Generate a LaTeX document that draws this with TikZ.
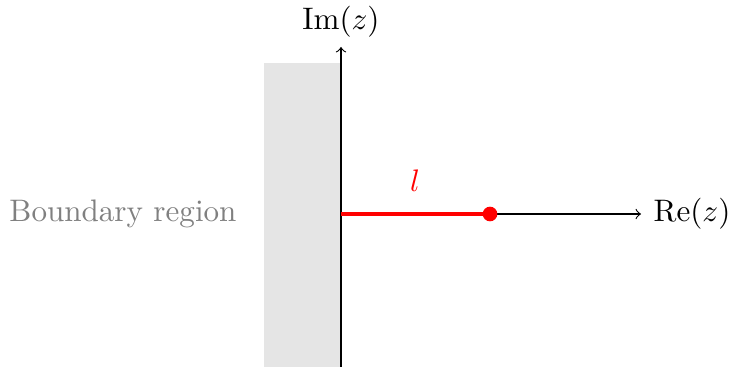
\documentclass[tikz,border=0pt]{standalone}
\begin{document}
\begin{tikzpicture}[x=0.3215pt,y=-0.3215pt,
  axis/.style={->,line width=0.35pt},
  seg/.style={red,line width=1.2pt},
  lbl/.style={inner sep=0pt}]
\useasboundingbox (0,0) rectangle (729,367);
\fill[gray!20] (264,63) rectangle (341,367);
\coordinate (O) at (341,214);
\coordinate (bot) at (341,367);
\coordinate (top) at (341,47);
\coordinate (right) at (641,214);
\draw[axis] (bot) -- (top);
\draw[axis] (O) -- (right);
\node[circle,fill=red,inner sep=0pt,minimum size=4.7pt] (dot) at (490,214) {};
\draw[seg] (O) -- (dot.center);
\node[lbl,anchor=south] (im) at (341,38) {$\mathrm{Im}(z)$};
\node[lbl,anchor=west] (re) at (653,214) {$\mathrm{Re}(z)$};
\node[lbl,red] (l) at (415,181) {$l$};
\node[lbl,gray] (bd) at (123,214) {Boundary region};
\end{tikzpicture}
\end{document}
